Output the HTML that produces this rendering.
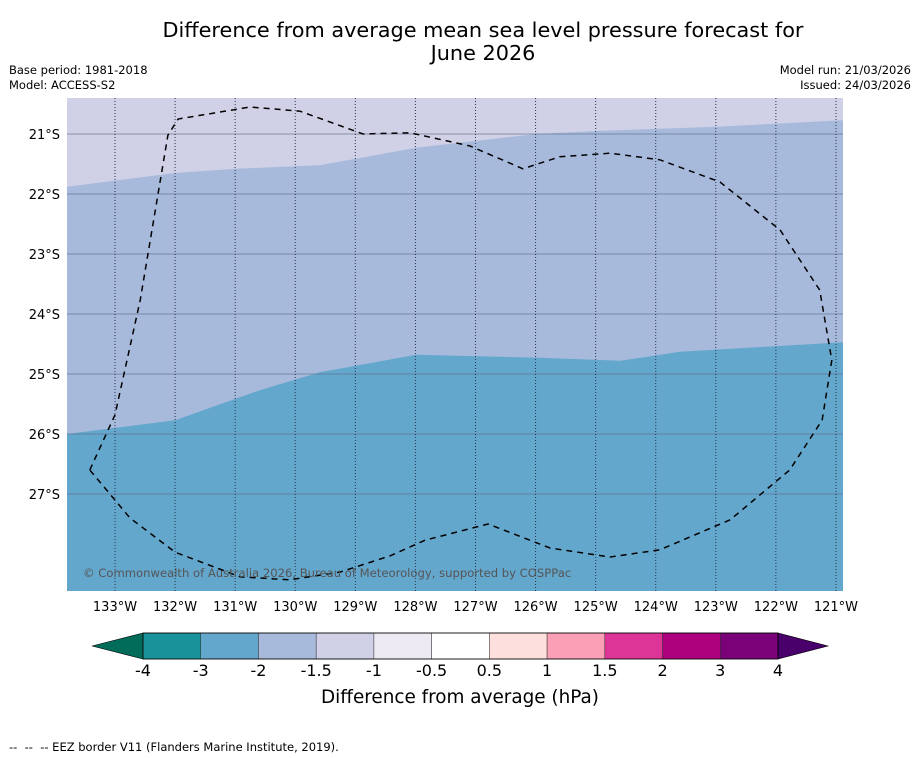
<!DOCTYPE html>
<html><head><meta charset="utf-8">
<style>
body{margin:0;background:#fff;font-family:"Liberation Sans","DejaVu Sans",sans-serif;}
#wrap{position:relative;width:919px;height:758px;overflow:hidden;}
.t{position:absolute;white-space:nowrap;}
</style></head>
<body>
<div id="wrap">
<div class="t" style="left:0;width:966px;top:19px;text-align:center;font-size:20.8px;line-height:23px;font-family:'DejaVu Sans',sans-serif;">Difference from average mean sea level pressure forecast for<br>June 2026</div>
<div class="t" style="left:9px;top:63px;font-size:11.5px;font-family:'DejaVu Sans',sans-serif;line-height:15px;">Base period: 1981-2018<br>Model: ACCESS-S2</div>
<div class="t" style="right:8px;top:63px;font-size:11.5px;font-family:'DejaVu Sans',sans-serif;line-height:15px;text-align:right;">Model run: 21/03/2026<br>Issued: 24/03/2026</div>
<svg id="svg" width="919" height="758" style="position:absolute;left:0;top:0" font-family="DejaVu Sans, sans-serif"></svg>
<div class="t" style="left:9px;top:740px;font-size:11.5px;font-family:'DejaVu Sans',sans-serif;">--&nbsp; --&nbsp; -- EEZ border V11 (Flanders Marine Institute, 2019).</div>
</div>
<script>
const lonTicks=[133,132,131,130,129,128,127,126,125,124,123,122,121];
const latTicks=[21,22,23,24,25,26,27];
const boundaryUpperLon=[133.8,132.0,130.99,129.59,127.99,125.99,124.99,122.99,120.88];
const boundaryUpperLat=[21.88,21.65,21.58,21.52,21.23,21.0,20.95,20.88,20.77];
const boundaryLowerLon=[133.8,132.0,130.59,129.59,127.99,125.93,124.59,123.6,120.88];
const boundaryLowerLat=[26.0,25.77,25.27,24.97,24.68,24.73,24.78,24.63,24.47];
const eezLon=[133.42,133.0,132.58,132.12,131.95,130.75,129.92,128.87,128.09,127.09,126.21,125.6,124.76,123.93,122.93,121.93,121.27,121.07,121.23,121.77,122.76,123.93,124.76,125.76,126.79,127.84,128.42,129.25,130.09,130.92,132.0,132.75,133.42];
const eezLat=[26.6,25.68,23.77,21.02,20.75,20.55,20.62,21.0,20.98,21.2,21.58,21.38,21.32,21.43,21.8,22.6,23.6,24.77,25.77,26.6,27.43,27.93,28.05,27.9,27.5,27.77,28.03,28.3,28.43,28.38,27.97,27.4,26.6];
const cbLevels=["-4","-3","-2","-1.5","-1","-0.5","0.5","1","1.5","2","3","4"];
const cbColors=["#1a9299","#64a7cd","#a7badb","#d0d0e6","#eeeaf3","#ffffff","#fde0dd","#fa9fb5","#dd3497","#ae017e","#7a0177"];

const X0=67,X1=843,Y0=98,Y1=591;
const xs=l=>115+(133-l)*60.08;
const ys=l=>134+(l-21)*60;
const NS="http://www.w3.org/2000/svg";
const svg=document.getElementById('svg');
function mk(tag,attrs,parent){const e=document.createElementNS(NS,tag);for(const k in attrs)e.setAttribute(k,attrs[k]);(parent||svg).appendChild(e);return e;}

const clip=mk('clipPath',{id:'mapclip'});mk('rect',{x:X0,y:Y0,width:X1-X0,height:Y1-Y0},clip);
const g=mk('g',{'clip-path':'url(#mapclip)'});
const bg=mk('rect',{x:X0,y:Y0,width:X1-X0,height:Y1-Y0,fill:'#d0d0e6'},g);

function bandPath(lons,lats){let d='M'+X0+','+Y1;for(let i=0;i<lons.length;i++)d+=' L'+xs(lons[i]).toFixed(1)+','+ys(lats[i]).toFixed(1);d+=' L'+X1+','+Y1+' Z';return d;}
const b1=mk('path',{d:bandPath(boundaryUpperLon,boundaryUpperLat),fill:'#a7badb'},g);

const b2=mk('path',{d:bandPath(boundaryLowerLon,boundaryLowerLat),fill:'#64a7cd'},g);


latTicks.forEach(l=>{const ln=mk('line',{x1:X0,x2:X1,y1:ys(l),y2:ys(l),stroke:'#5a6a85','stroke-width':0.8,'stroke-opacity':0.8},g);
});
lonTicks.forEach(l=>{const ln=mk('line',{x1:xs(l),x2:xs(l),y1:Y0,y2:Y1,stroke:'#2a3550','stroke-width':1,'stroke-dasharray':'1,2'},g);
});

let ed='';eezLon.forEach((l,i)=>{ed+=(i?' L':'M')+xs(l).toFixed(1)+','+ys(eezLat[i]).toFixed(1);});
const eez=mk('path',{d:ed,fill:'none',stroke:'#000','stroke-width':1.5,'stroke-dasharray':'6,5'},g);


const cp=mk('text',{x:83,y:577,'font-size':11.6,fill:'#555'},g);cp.textContent='© Commonwealth of Australia 2026, Bureau of Meteorology, supported by COSPPac';


latTicks.forEach(l=>{const t=mk('text',{x:60,y:ys(l)+5,'font-size':13,'text-anchor':'end'});t.textContent=l+'°S';
});
lonTicks.forEach(l=>{const t=mk('text',{x:xs(l),y:611,'font-size':13,'text-anchor':'middle'});t.textContent=l+'°W';
});

const CX0=143,CX1=778,CY0=633,CY1=659,w=(CX1-CX0)/cbColors.length;
const lt=mk('polygon',{points:`${CX0},${CY0} ${CX0},${CY1} 92,646`,fill:'#016c59',stroke:'#000','stroke-width':0.6});

const rt=mk('polygon',{points:`${CX1},${CY0} ${CX1},${CY1} 828,646`,fill:'#49006a',stroke:'#000','stroke-width':0.6});

cbColors.forEach((c,i)=>{const r=mk('rect',{x:CX0+i*w,y:CY0,width:w,height:CY1-CY0,fill:c,stroke:'#333','stroke-width':0.5});
});
mk('rect',{x:CX0,y:CY0,width:CX1-CX0,height:CY1-CY0,fill:'none',stroke:'#000','stroke-width':0.8});
cbLevels.forEach((s,i)=>{const t=mk('text',{x:CX0+i*w,y:676,'font-size':16,'text-anchor':'middle'});t.textContent=s;
});
const ct=mk('text',{x:460,y:703,'font-size':18.4,'text-anchor':'middle'});ct.textContent='Difference from average (hPa)';

</script>
</body></html>
